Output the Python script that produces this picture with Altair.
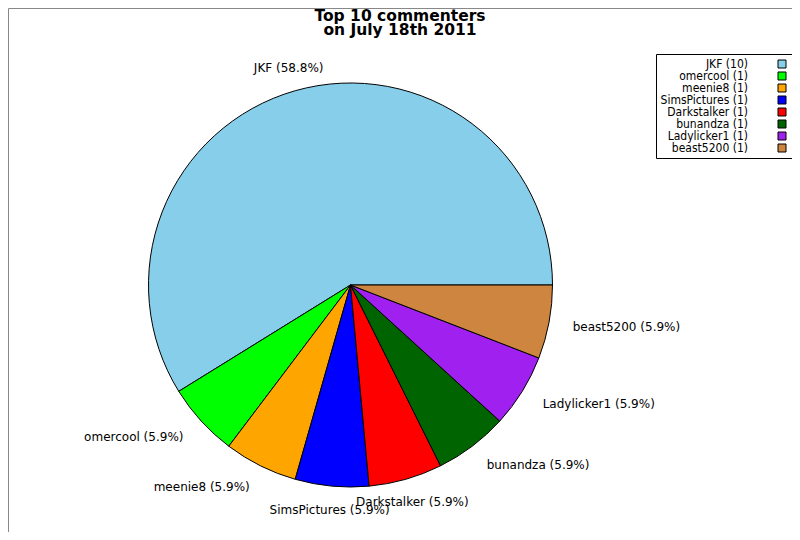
import math
import altair as alt
import pandas as pd

# ---- data ----
NAMES = ["JKF", "omercool", "meenie8", "SimsPictures", "Darkstalker",
         "bunandza", "Ladylicker1", "beast5200"]
COUNTS = [10, 1, 1, 1, 1, 1, 1, 1]
COLORS = ["#87CEEB", "#00FF00", "#FFA500", "#0000FF", "#FF0000",
          "#006400", "#A020F0", "#CD853F"]
TITLE = ["Top 10 commenters", "on July 18th 2011"]

LEGEND_LABELS = [f"{n} ({c})" for n, c in zip(NAMES, COUNTS)]
df = pd.DataFrame({"name": NAMES, "count": COUNTS, "idx": list(range(len(NAMES)))})

FONT = "DejaVu Sans"
LEGEND_FONT = "DejaVu Sans Condensed, DejaVu Sans"
CX, CY = 342.5, 277      # pie centre inside the plot area
R = 202                  # pie radius
LR = 226                 # label radius

theta_scale = alt.Scale(range=[math.pi / 2, math.pi / 2 + 2 * math.pi])

base = alt.Chart(df).transform_joinaggregate(
    total="sum(count)"
).transform_window(
    cum="sum(count)", sort=[alt.SortField("idx", order="descending")], frame=[None, 0]
).transform_calculate(
    legend="datum.name + ' (' + datum.count + ')'",
    label="datum.name + ' (' + format(100 * datum.count / datum.total, '.1f') + '%)'",
    mid="datum.cum - datum.count / 2",
    hx="sin(PI / 2 + 2 * PI * (datum.cum - datum.count / 2) / datum.total)",
)

arcs = base.mark_arc(radius=R, stroke="black", strokeWidth=1).encode(
    theta=alt.Theta("count:Q", stack=True, scale=theta_scale),
    order=alt.Order("idx:Q", sort="descending"),
    color=alt.Color(
        "legend:N",
        scale=alt.Scale(domain=LEGEND_LABELS, range=COLORS),
        legend=alt.Legend(
            title=None, orient="none", legendX=648, legendY=46, direction="vertical",
            symbolType="square", symbolSize=64, symbolStrokeColor="black",
            symbolStrokeWidth=1, labelFont=LEGEND_FONT, labelFontSize=12,
            labelColor="black", labelAlign="right",
            labelOffset=alt.ExprRef("-40"),
            symbolOffset=116, rowPadding=alt.ExprRef("-3.2"), padding=4,
            strokeColor="black", fillColor="white",
        ),
    ),
    x=alt.value(CX),
    y=alt.value(CY),
)


def label_layer(cond, align):
    return base.transform_filter(cond).mark_text(
        radius=LR, align=align, baseline="middle", font=FONT, fontSize=12, color="black"
    ).encode(
        theta=alt.Theta("mid:Q", stack=False, scale=theta_scale),
        text="label:N",
        x=alt.value(CX),
        y=alt.value(CY),
    )


lab_left = label_layer("datum.hx > 0.35", "left")
lab_right = label_layer("datum.hx < -0.35", "right")
lab_center = label_layer("abs(datum.hx) <= 0.35", "center")

chart = alt.layer(arcs, lab_left, lab_right, lab_center).properties(
    width=784,
    height=524,
    autosize=alt.AutoSizeParams(type="none"),
    padding=0,
    title=alt.TitleParams(
        TITLE, font=FONT, fontSize=15.5, fontWeight="bold", color="black",
        anchor="middle", frame="group", offset=-30.5, lineHeight=14,
    ),
).configure_view(stroke="#888888", strokeWidth=1)

chart.save("out.html", embed_options={"renderer": "svg", "actions": False})
